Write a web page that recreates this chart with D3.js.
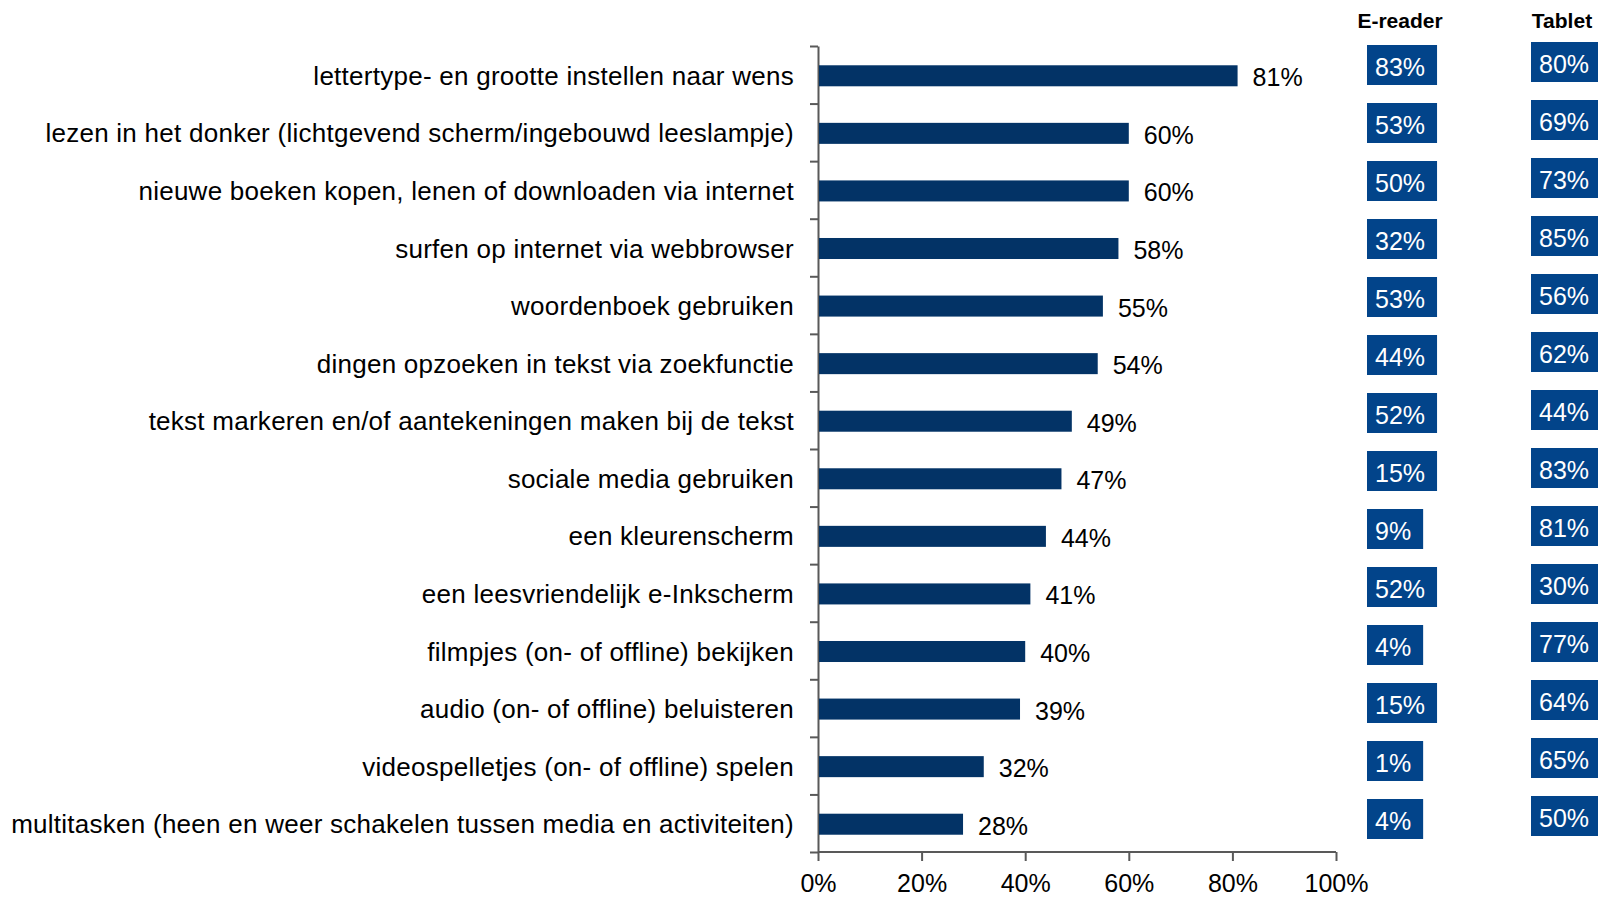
<!DOCTYPE html>
<html>
<head>
<meta charset="utf-8">
<script src="https://cdn.jsdelivr.net/npm/d3@7"></script>
<style>
  body { margin: 0; background: #fff; }
  svg { display: block; font-family: "Liberation Sans", Arial, sans-serif; }
  .axis path, .axis line { stroke: #595959; stroke-width: 2; }
</style>
</head>
<body>
<svg id="chart"></svg>
<script>
const width = 1598;
const height = 897;

const categories = [
  "lettertype- en grootte instellen naar wens",
  "lezen in het donker (lichtgevend scherm/ingebouwd leeslampje)",
  "nieuwe boeken kopen, lenen of downloaden via internet",
  "surfen op internet via webbrowser",
  "woordenboek gebruiken",
  "dingen opzoeken in tekst via zoekfunctie",
  "tekst markeren en/of aantekeningen maken bij de tekst",
  "sociale media gebruiken",
  "een kleurenscherm",
  "een leesvriendelijk e-Inkscherm",
  "filmpjes (on- of offline) bekijken",
  "audio (on- of offline) beluisteren",
  "videospelletjes (on- of offline) spelen",
  "multitasken (heen en weer schakelen tussen media en activiteiten)"
];
const totalValues = [81, 60, 60, 58, 55, 54, 49, 47, 44, 41, 40, 39, 32, 28];
const ereaderValues = [83, 53, 50, 32, 53, 44, 52, 15, 9, 52, 4, 15, 1, 4];
const tabletValues = [80, 69, 73, 85, 56, 62, 44, 83, 81, 30, 77, 64, 65, 50];
const xTicks = [0, 20, 40, 60, 80, 100];
const sideColumns = ["E-reader", "Tablet"];

const barColor = "#033366";
const boxColor = "#02448a";

const svg = d3.select("#chart").attr("width", width).attr("height", height);

const x = d3.scaleLinear().domain([0, 100]).range([818, 1336]);
const y = d3.scaleBand().domain(categories).range([46, 852]).paddingInner(0.635).paddingOuter(0.3175);
// band edges for the tick marks on the category axis
const yEdge = d3.scaleLinear().domain([0, categories.length]).range([46, 852]);

// category axis
svg.append("g")
  .attr("class", "axis")
  .attr("transform", "translate(818,0)")
  .call(d3.axisLeft(yEdge).tickValues(d3.range(categories.length + 1)).tickFormat("").tickSize(8).tickSizeOuter(0));

// value axis
const xAxis = svg.append("g")
  .attr("class", "axis")
  .attr("transform", "translate(0,852)")
  .call(d3.axisBottom(x).tickValues(xTicks).tickFormat((d) => d + "%").tickSize(9).tickSizeOuter(0).tickPadding(13));
xAxis.select(".domain").attr("d", "M" + x(0) + ",0H" + x(100));
xAxis.selectAll("text").attr("font-size", 25).attr("fill", "#000").attr("font-family", "Liberation Sans, Arial");

// bars
svg.append("g")
  .selectAll("rect")
  .data(totalValues)
  .join("rect")
  .attr("x", x(0) + 1)
  .attr("y", (d, i) => y(categories[i]) + 1)
  .attr("width", (d) => x(d) - x(0) - 1)
  .attr("height", y.bandwidth())
  .attr("fill", barColor);

// value labels
svg.append("g")
  .selectAll("text")
  .data(totalValues)
  .join("text")
  .attr("x", (d) => x(d) + 15)
  .attr("y", (d, i) => y(categories[i]) + y.bandwidth() + 1)
  .attr("font-size", 25)
  .attr("fill", "#000")
  .text((d) => d + "%");

// category labels
svg.append("g")
  .selectAll("text")
  .data(categories)
  .join("text")
  .attr("x", 794)
  .attr("y", (d) => y(d) + y.bandwidth() / 2 + 10)
  .attr("text-anchor", "end")
  .attr("font-size", 26)
  .attr("letter-spacing", 0.26)
  .attr("fill", "#000")
  .text((d) => d);

// side columns with boxed percentages
const yBox = d3.scaleBand().domain(categories).range([36, 848]);
const colX = d3.scaleOrdinal().domain(sideColumns).range([1367, 1531]);
const colShift = d3.scaleOrdinal().domain(sideColumns).range([0, -3]);

[ereaderValues, tabletValues].forEach((vals, c) => {
  const name = sideColumns[c];
  const x0 = colX(name);

  const cell = svg.append("g")
    .selectAll("g")
    .data(vals)
    .join("g")
    .attr("transform", (d, i) => "translate(" + x0 + "," + (yBox(categories[i]) + yBox.bandwidth() / 2 + colShift(name)) + ")");

  const rect = cell.append("rect")
    .attr("y", -20)
    .attr("height", 40)
    .attr("fill", boxColor);

  const label = cell.append("text")
    .attr("x", 8)
    .attr("y", 11)
    .attr("font-size", 25)
    .attr("fill", "#fff")
    .text((d) => d + "%");

  rect.attr("width", function (d, i) {
    return label.nodes()[i].getComputedTextLength() + 20;
  });

  svg.append("text")
    .attr("x", c === 0 ? 1400 : 1562)
    .attr("y", 28)
    .attr("text-anchor", "middle")
    .attr("font-size", 21)
    .attr("font-weight", "bold")
    .attr("fill", "#000")
    .text(name);
});
</script>
</body>
</html>
